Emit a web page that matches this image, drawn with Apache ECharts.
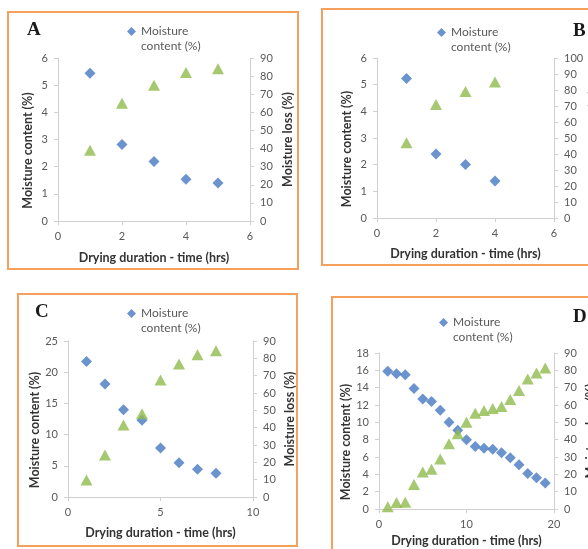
<!DOCTYPE html>
<html>
<head>
<meta charset="utf-8">
<title>Drying curves</title>
<script src="https://cdn.jsdelivr.net/npm/echarts@6/dist/echarts.min.js"></script>
<style>
html, body { margin: 0; padding: 0; background: #fff; }
#main { width: 588px; height: 549px; }
</style>
</head>
<body>
<div id="main"></div>
<script>
// A
var hoursA = [1, 2, 3, 4, 5];
var moistureA = [5.44, 2.82, 2.19, 1.54, 1.40];
var lossA = [39, 65, 75, 82, 84];
// B
var hoursB = [1, 2, 3, 4];
var moistureB = [5.23, 2.40, 2.01, 1.39];
var lossB = [47, 71, 79, 85];
// C
var hoursC = [1, 2, 3, 4, 5, 6, 7, 8];
var moistureC = [21.7, 18.1, 14.0, 12.3, 7.85, 5.5, 4.45, 3.8];
var lossC = [9.8, 24.2, 41.5, 48, 67.5, 76.7, 82, 84.4];
// D
var hoursD = [1, 2, 3, 4, 5, 6, 7, 8, 9, 10, 11, 12, 13, 14, 15, 16, 17, 18, 19];
var moistureD = [15.9, 15.6, 15.5, 13.9, 12.7, 12.4, 11.4, 10.0, 9.1, 8.0, 7.2, 7.0, 6.9, 6.5, 5.9, 5.1, 4.1, 3.6, 3.0];
var lossD = [1.3, 3.7, 3.9, 14.1, 21.4, 22.9, 28.9, 37.6, 43.4, 50.1, 55.3, 56.8, 58, 59.2, 63.2, 68.4, 75, 78.4, 81.3];

var mcName = 'Moisture content (%)';
var mlName = 'Moisture loss (%)';
var xName = 'Drying duration - time (hrs)';

var panels = [
  { letter: 'A', hours: hoursA, mc: moistureA, ml: lossA, xMax: 6, xStep: 2, yMax: 6, yStep: 1, mlMax: 90,
    grid: { left: 58, top: 58, width: 192, height: 163 }, box: [8, 12, 290, 257], letterAt: [27, 21], legendAt: [127, 9], rightGap: 31, xGap: 30 },
  { letter: 'B', hours: hoursB, mc: moistureB, ml: lossB, xMax: 6, xStep: 2, yMax: 6, yStep: 1, mlMax: 100,
    grid: { left: 377, top: 58, width: 177, height: 160 }, box: [322, 9, 300, 256], letterAt: [573, 22], legendAt: [437, 10], rightGap: 30, xGap: 29 },
  { letter: 'C', hours: hoursC, mc: moistureC, ml: lossC, xMax: 10, xStep: 5, yMax: 25, yStep: 5, mlMax: 90,
    grid: { left: 68, top: 341, width: 185, height: 156 }, box: [18, 294, 279, 252], letterAt: [35, 303], legendAt: [127, 291], rightGap: 30, xGap: 29 },
  { letter: 'D', hours: hoursD, mc: moistureD, ml: lossD, xMax: 20, xStep: 10, yMax: 18, yStep: 2, mlMax: 90,
    grid: { left: 379, top: 353, width: 175, height: 156 }, box: [332, 297, 300, 300], letterAt: [573, 308], legendAt: [439, 300], rightGap: 30, xGap: 25 }
];

var font = 'Lato, "Open Sans", sans-serif';
var axisGray = '#d0d0d0';
var labelGray = '#595959';

function axisLine() {
  return { show: true, lineStyle: { color: axisGray, width: 1 } };
}
function axisTick() {
  return { show: true, length: 4, lineStyle: { color: axisGray } };
}
function axisLabel() {
  return { color: labelGray, fontSize: 11, fontFamily: font, margin: 10 };
}
function titleStyle(pad) {
  return { color: '#333', fontSize: 12.5, fontWeight: 'bold', fontFamily: font, padding: pad || 0 };
}

var option = {
  backgroundColor: '#fff',
  animation: false,
  title: [], legend: [], grid: [], xAxis: [], yAxis: [], series: [],
  graphic: []
};

panels.forEach(function (p, i) {
  option.graphic.push({
    type: 'rect', silent: true,
    shape: { x: p.box[0], y: p.box[1], width: p.box[2], height: p.box[3] },
    style: { fill: 'none', stroke: '#f5a05c', lineWidth: 2 }
  });
  option.title.push({
    text: p.letter, left: p.letterAt[0], top: p.letterAt[1], padding: 0,
    textStyle: { fontFamily: '"Liberation Serif", serif', fontWeight: 'bold', fontSize: 19, color: '#1a1a1a' }
  });
  option.legend.push({
    left: p.legendAt[0], top: p.legendAt[1], padding: 0,
    data: [mcName], icon: 'diamond', itemWidth: 9, itemHeight: 9,
    selectedMode: false,
    formatter: function () { return '\nMoisture\ncontent (%)'; },
    textStyle: { color: labelGray, fontSize: 12, fontFamily: font, lineHeight: 15 }
  });
  // grids are placed by hand; keep v6 from shrinking them to fit names
  option.grid.push(Object.assign({ containLabel: false, outerBoundsMode: 'none' }, p.grid));
  option.xAxis.push({
    type: 'value', gridIndex: i, min: 0, max: p.xMax, interval: p.xStep,
    name: xName, nameLocation: 'middle', nameGap: p.xGap, nameTextStyle: titleStyle(),
    axisLine: axisLine(), axisTick: axisTick(), axisLabel: axisLabel(),
    splitLine: { show: false }
  });
  option.yAxis.push({
    type: 'value', gridIndex: i, position: 'left', min: 0, max: p.yMax, interval: p.yStep,
    name: mcName, nameLocation: 'middle', nameGap: 24, nameRotate: 90,
    nameTextStyle: titleStyle([0, 22, 0, 0]),
    axisLine: axisLine(), axisTick: axisTick(), axisLabel: axisLabel(),
    splitLine: { show: false }
  });
  option.yAxis.push({
    type: 'value', gridIndex: i, position: 'right', min: 0, max: p.mlMax, interval: 10,
    name: mlName, nameLocation: 'middle', nameGap: p.rightGap, nameRotate: 90,
    nameTextStyle: titleStyle(),
    axisLine: axisLine(), axisTick: axisTick(), axisLabel: axisLabel(),
    splitLine: { show: false }
  });
  option.series.push({
    name: mcName, type: 'scatter', xAxisIndex: i, yAxisIndex: i * 2,
    symbol: 'diamond', symbolSize: 11,
    itemStyle: { color: '#4679c3' },
    data: p.hours.map(function (h, k) { return [h, p.mc[k]]; })
  });
  option.series.push({
    name: mlName, type: 'scatter', xAxisIndex: i, yAxisIndex: i * 2 + 1,
    symbol: 'triangle', symbolSize: [12, 11],
    itemStyle: { color: '#8fba4c' },
    data: p.hours.map(function (h, k) { return [h, p.ml[k]]; })
  });
});

var chart = echarts.init(document.getElementById('main'));
chart.setOption(option);
</script>
</body>
</html>
